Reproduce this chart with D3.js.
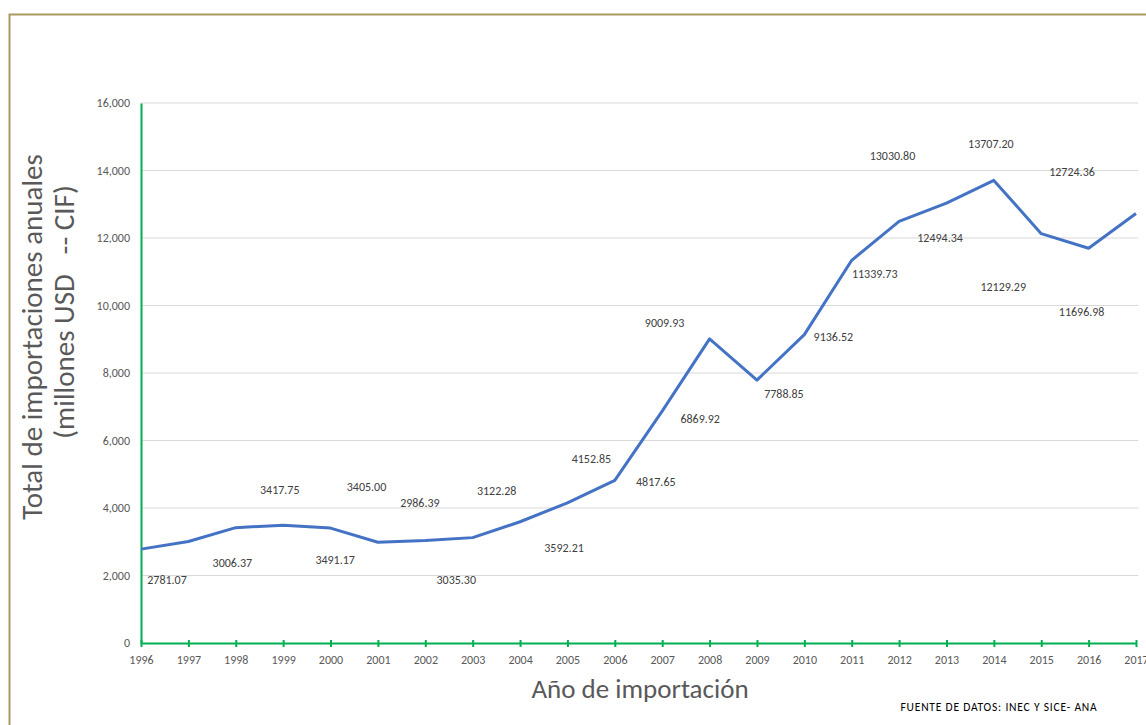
<!DOCTYPE html>
<html>
<head>
<meta charset="utf-8">
<script src="https://cdn.jsdelivr.net/npm/d3@7"></script>
<style>
  html, body { margin: 0; padding: 0; background: #fff; }
  svg { display: block; }
</style>
</head>
<body>
<svg id="chart" width="1146" height="725"></svg>
<script>
// Annual imports (millions USD, CIF)
const years = ["1996","1997","1998","1999","2000","2001","2002","2003","2004","2005","2006",
               "2007","2008","2009","2010","2011","2012","2013","2014","2015","2016","2017"];
const imports = [2781.07, 3006.37, 3417.75, 3491.17, 3405.00, 2986.39, 3035.30, 3122.28,
                 3592.21, 4152.85, 4817.65, 6869.92, 9009.93, 7788.85, 9136.52, 11339.73,
                 12494.34, 13030.80, 13707.20, 12129.29, 11696.98, 12724.36];
const yTicks = [0, 2000, 4000, 6000, 8000, 10000, 12000, 14000, 16000];

// Hand-placed label offsets (px) from each point
const labelOffsets = [[26,31],[44,21],[44,-38],[52,35],[36,-41],[42,-39],[31,39],[24,-47],
                      [44,26],[24,-44],[41,2],[38,8],[-45,-16],[27,14],[29,2],[23,14],
                      [41,17],[-54,-47],[-3,-36],[-38,53],[-7,64],[-64,-42]];

const svg = d3.select("#chart");
const font = "Carlito, Lato, 'Liberation Sans', sans-serif";

// Chart-area frame
svg.append("rect")
  .attr("x", 9.5).attr("y", 14.5).attr("width", 1150).attr("height", 720)
  .attr("fill", "none").attr("stroke", "#a89a5c").attr("stroke-width", 2);

const plot = { left: 141, right: 1136, top: 103, bottom: 643 };

const x = d3.scalePoint().domain(years).range([plot.left, plot.right]);
const y = d3.scaleLinear().domain([0, 16000]).range([plot.bottom, plot.top]);

// Horizontal gridlines
svg.append("g").selectAll("line").data(yTicks.slice(1)).join("line")
  .attr("x1", plot.left).attr("x2", plot.right + 2)
  .attr("y1", d => y(d)).attr("y2", d => y(d))
  .attr("stroke", "#d9d9d9").attr("stroke-width", 1);

// Y axis
const yAxis = svg.append("g").attr("transform", `translate(${plot.left},0)`)
  .call(d3.axisLeft(y).tickValues(yTicks).tickFormat(d3.format(",")).tickSize(0).tickPadding(11));
yAxis.select(".domain").attr("stroke", "#00b050").attr("stroke-width", 2);
yAxis.selectAll("text").attr("font-family", font).attr("font-size", 12).attr("fill", "#595959");

// X axis
const xAxis = svg.append("g").attr("transform", `translate(0,${plot.bottom})`)
  .call(d3.axisBottom(x).tickSizeInner(4).tickSizeOuter(0).tickPadding(8));
xAxis.select(".domain").attr("stroke", "#00b050").attr("stroke-width", 2);
xAxis.selectAll(".tick line").attr("stroke", "#00b050").attr("stroke-width", 2).attr("y1", -3);
xAxis.selectAll("text").attr("font-family", font).attr("font-size", 12).attr("fill", "#595959");

// Series line
svg.append("path")
  .datum(imports)
  .attr("fill", "none")
  .attr("stroke", "#4472c4")
  .attr("stroke-width", 3)
  .attr("stroke-linejoin", "round")
  .attr("d", d3.line().x((d, i) => x(years[i])).y(d => y(d)));

// Data labels
svg.append("g").selectAll("text").data(imports).join("text")
  .attr("x", (d, i) => x(years[i]) + labelOffsets[i][0])
  .attr("y", (d, i) => y(d) + labelOffsets[i][1])
  .attr("text-anchor", "middle")
  .attr("dominant-baseline", "central")
  .attr("font-family", font).attr("font-size", 12).attr("fill", "#404040")
  .text(d => d.toFixed(2));

// Axis titles
svg.append("text")
  .attr("transform", "translate(42,337) rotate(-90)")
  .attr("text-anchor", "middle")
  .attr("font-family", font).attr("font-size", 29).attr("font-weight", 300).attr("fill", "#595959")
  .text("Total de importaciones anuales");
svg.append("text")
  .attr("transform", "translate(74,312) rotate(-90)")
  .attr("text-anchor", "middle")
  .attr("font-family", font).attr("font-size", 29).attr("font-weight", 300).attr("fill", "#595959")
  .attr("xml:space", "preserve")
  .text("(millones USD   -- CIF)");

svg.append("text")
  .attr("x", 640).attr("y", 698)
  .attr("text-anchor", "middle")
  .attr("font-family", font).attr("font-size", 27).attr("font-weight", 300).attr("fill", "#595959")
  .text("Año de importación");

svg.append("text")
  .attr("x", 999).attr("y", 711)
  .attr("text-anchor", "middle")
  .attr("font-family", font).attr("font-size", 11.5).attr("letter-spacing", 0.8).attr("fill", "#000")
  .text("FUENTE DE DATOS: INEC Y SICE- ANA");
</script>
</body>
</html>
